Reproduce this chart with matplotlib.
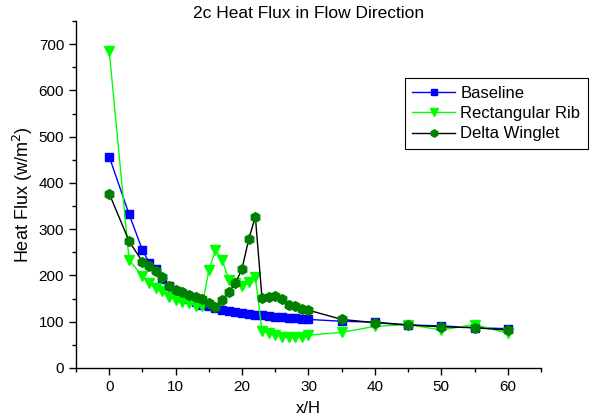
import matplotlib
matplotlib.use("Agg")
import matplotlib.pyplot as plt
from matplotlib.ticker import MultipleLocator

plt.rcParams['font.family'] = ['Liberation Sans', 'DejaVu Sans']

# Streamwise positions x/H
x_pos = [0, 3, 5, 6, 7, 8, 9, 10, 11, 12, 13, 14, 15, 16, 17, 18, 19, 20,
         21, 22, 23, 24, 25, 26, 27, 28, 29, 30, 35, 40, 45, 50, 55, 60]

baseline = [457, 332, 255, 228, 213, 192, 178, 166, 157, 150, 143, 137, 133,
            129, 126, 123, 121, 119, 117, 115, 114, 112, 111, 110, 109, 107,
            106, 105, 101, 99, 93, 91, 87, 85]

rect_rib = [686, 233, 199, 184, 173, 166, 154, 148, 143, 140, 135, 135, 211,
            255, 234, 191, 183, 177, 186, 197, 80, 75, 71, 68, 66, 66, 68, 71,
            77, 90, 94, 82, 94, 75]

delta_winglet = [377, 274, 230, 220, 209, 197, 178, 168, 165, 158, 153, 149,
                 141, 132, 147, 164, 183, 215, 278, 327, 152, 154, 155, 150,
                 137, 135, 127, 125, 105, 98, 93, 89, 87, 82]

fig = plt.figure(figsize=(5.95, 4.16), dpi=100)
ax = fig.add_axes([0.1277, 0.1154, 0.7815, 0.8341])

ax.plot(x_pos, baseline, color='#0000FF', lw=1, marker='s', ms=5.5,
        mec='#0000FF', mfc='#0000FF', label='Baseline')
ax.plot(x_pos, rect_rib, color='#00FF00', lw=1, marker='v', ms=7.5,
        mec='#00FF00', mfc='#00FF00', label='Rectangular Rib')
ax.plot(x_pos, delta_winglet, color='black', lw=1, marker='h', ms=7,
        mec='#008000', mfc='#008000', label='Delta Winglet')

ax.set_xlim(-5, 65)
ax.set_ylim(0, 750)
ax.xaxis.set_major_locator(MultipleLocator(10))
ax.xaxis.set_minor_locator(MultipleLocator(5))
ax.yaxis.set_major_locator(MultipleLocator(100))
ax.yaxis.set_minor_locator(MultipleLocator(50))

for side in ('top', 'right'):
    ax.spines[side].set_visible(False)
for side in ('left', 'bottom'):
    ax.spines[side].set_linewidth(1)

ax.tick_params(which='major', direction='out', length=5, width=1,
               labelsize=11)
ax.tick_params(which='minor', direction='out', length=3, width=1)

ax.set_title('2c Heat Flux in Flow Direction', fontsize=12.5, pad=1)
ax.set_ylabel('Heat Flux (w/m$^2$)', fontsize=13, labelpad=3)
ax.set_xlabel('x/H', fontsize=12, labelpad=5)

leg = ax.legend(loc='upper right', bbox_to_anchor=(1.101, 0.835),
                fontsize=12, frameon=True, fancybox=False, framealpha=1,
                edgecolor='black', borderpad=0.45, labelspacing=0.32,
                handlelength=2.6, handletextpad=0.3, borderaxespad=0,
                markerscale=0.75)
leg.get_frame().set_linewidth(0.8)

fig.savefig('out.png', dpi=100)
